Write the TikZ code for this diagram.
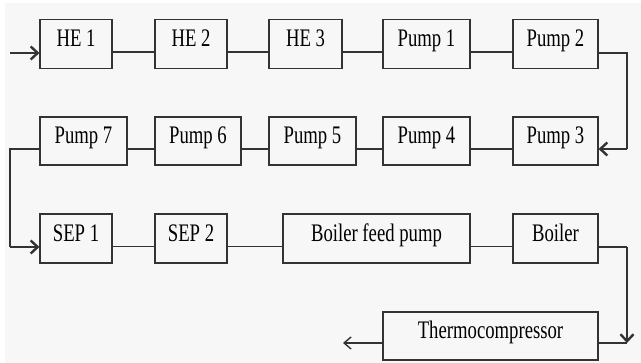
\documentclass[tikz,border=0pt]{standalone}
\definecolor{PaperGrey}{HTML}{F7F7F7}
\definecolor{InkGrey}{HTML}{333333}
\usepackage{fontspec}
\setmainfont{Liberation Serif}
\usepackage{tikz}
\usetikzlibrary{arrows.meta, positioning}
\newcommand{\tallsf}[1]{\scalebox{1}[1.35]{#1}}

\begin{document}
\begin{tikzpicture}[x=1pt, y=-1pt,
    unit/.style={draw=InkGrey, line width=1.1pt, minimum height=49pt,
      inner sep=0pt, text height=14pt, text depth=8.4pt,
      font=\fontsize{18.7}{20}\selectfont},
    link/.style={draw=InkGrey, line width=1.1pt},
    flow/.style={draw=InkGrey, line width=2.4pt,
      -{Straight Barb[length=7pt, width=13pt, line width=2.4pt]}},
    outflow/.style={draw=InkGrey, line width=1.1pt,
      -{Straight Barb[length=7pt, width=12pt, line width=1.4pt]}}]
  \useasboundingbox (0,0) rectangle (641,363);
  \fill[white] (0,0) rectangle (641,363);
  \fill[PaperGrey] (5,3) rectangle (641,363);
  % First row
  \node[unit, minimum width=72pt] (he1) at (76,44) {\tallsf{HE 1}};
  \node[unit, minimum width=72pt] (he2) at (191,44) {\tallsf{HE 2}};
  \node[unit, minimum width=73pt] (he3) at (305.5,44) {\tallsf{HE 3}};
  \node[unit, minimum width=87pt] (pump1) at (426.5,44) {\tallsf{Pump 1}};
  \node[unit, minimum width=85pt] (pump2) at (555.5,44) {\tallsf{Pump 2}};
  % Second row
  \node[unit, minimum width=87pt, minimum height=48pt] (pump7) at (83.5,141) {\tallsf{Pump 7}};
  \node[unit, minimum width=86pt, minimum height=48pt] (pump6) at (198,141) {\tallsf{Pump 6}};
  \node[unit, minimum width=87pt, minimum height=48pt] (pump5) at (312.5,141) {\tallsf{Pump 5}};
  \node[unit, minimum width=87pt, minimum height=48pt] (pump4) at (426.5,141) {\tallsf{Pump 4}};
  \node[unit, minimum width=85pt, minimum height=48pt] (pump3) at (555.5,141) {\tallsf{Pump 3}};
  % Third row
  \node[unit, minimum width=72pt] (sep1) at (76,238.5) {\tallsf{SEP 1}};
  \node[unit, minimum width=72pt] (sep2) at (191,238.5) {\tallsf{SEP 2}};
  \node[unit, minimum width=187pt] (feed) at (376.5,238.5) {\tallsf{Boiler feed pump}};
  \node[unit, minimum width=85pt] (boiler) at (555.5,238.5) {\tallsf{Boiler}};
  % Last row
  \node[unit, minimum width=215pt, minimum height=48pt] (thermo) at (490.5,336) {\tallsf{Thermocompressor}};
  % Turning points and free ends
  \coordinate (inlet) at (10,53);
  \coordinate (rtop) at (627,53);
  \coordinate (rmid) at (627,149);
  \coordinate (lmid) at (10,149);
  \coordinate (lbot) at (10,247);
  \coordinate (rbot) at (627,247);
  \coordinate (rlow) at (627,343);
  \coordinate (outlet) at (343,343);
  % Links inside the rows
  \foreach \a/\b in {he1/he2, he2/he3, he3/pump1, pump1/pump2,
      pump7/pump6, pump6/pump5, pump5/pump4, pump4/pump3,
      sep1/sep2, sep2/feed, feed/boiler}
    \draw[link] ([yshift=-8pt]\a.east) -- ([yshift=-8pt]\b.west);
  % Feed in
  \draw[flow] (inlet) -- ([yshift=-9pt]he1.west);
  % Right turn to the second row
  \draw[link] ([yshift=-9pt]pump2.east) -- (rtop) -- (rmid);
  \draw[flow] (rmid) -- ([yshift=-8pt]pump3.east);
  % Left turn to the third row
  \draw[link] ([yshift=-8pt]pump7.west) -- (lmid) -- (lbot);
  \draw[flow] (lbot) -- ([yshift=-8.5pt]sep1.west);
  % Boiler to thermocompressor
  \draw[link] ([yshift=-8.5pt]boiler.east) -- (rbot);
  \draw[flow] (rbot) -- (rlow);
  \draw[link] ([yshift=-7pt]thermo.east) -- (rlow);
  % Steam out
  \draw[outflow] ([yshift=-7pt]thermo.west) -- (outlet);
\end{tikzpicture}
\end{document}
